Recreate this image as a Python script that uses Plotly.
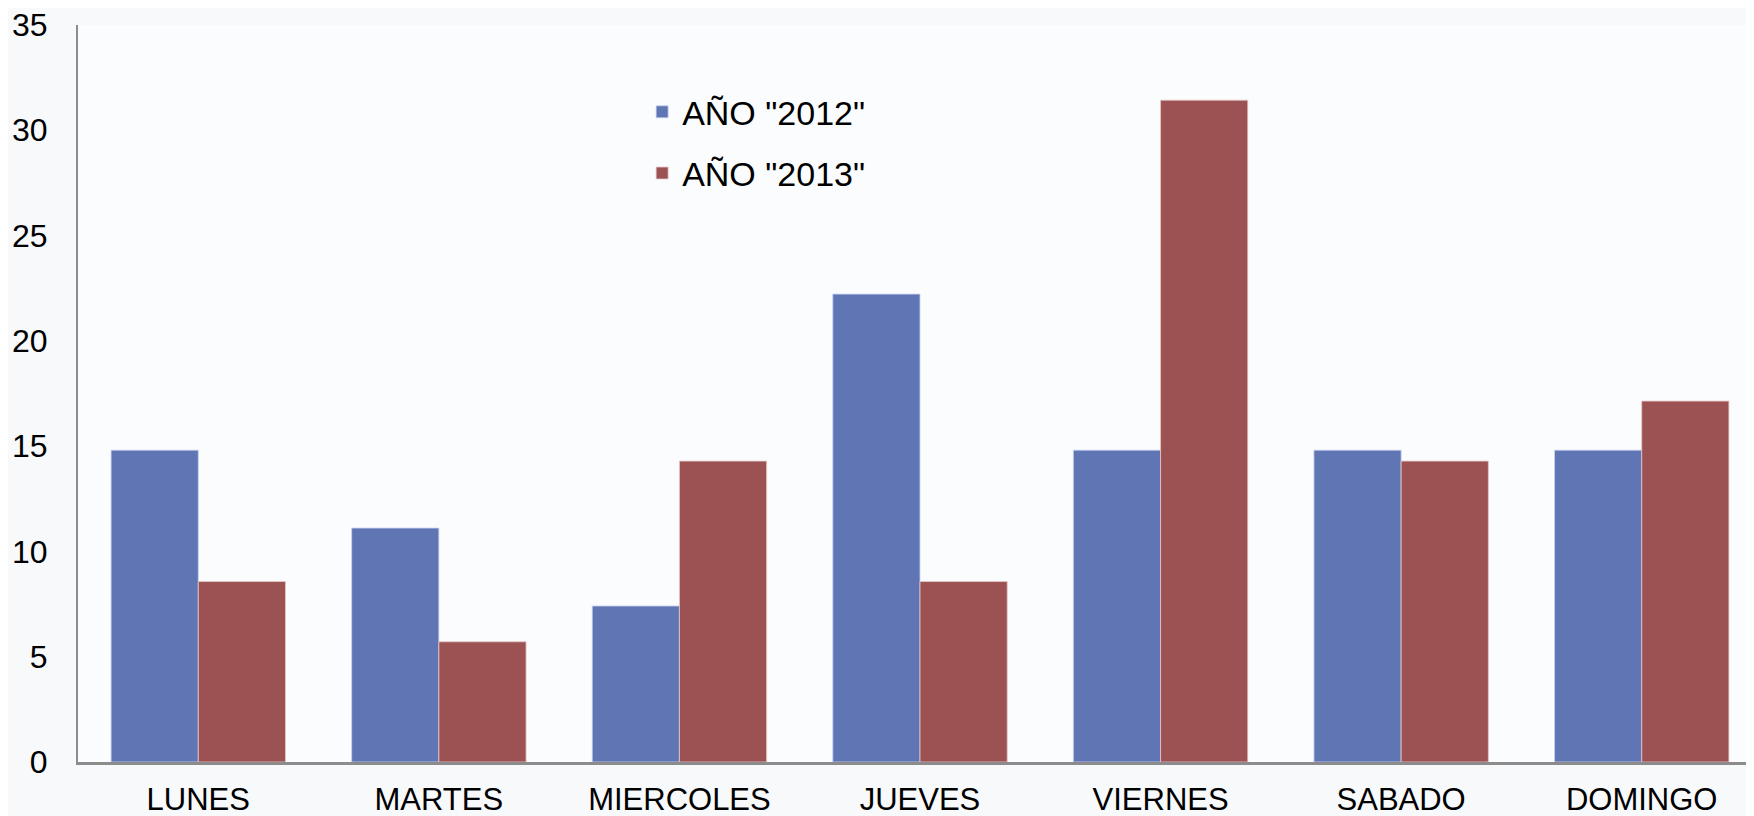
import plotly.graph_objects as go

dias = ["LUNES", "MARTES", "MIERCOLES", "JUEVES", "VIERNES", "SABADO", "DOMINGO"]
anio_2012 = [14.81, 11.11, 7.41, 22.22, 14.81, 14.81, 14.81]
anio_2013 = [8.57, 5.71, 14.29, 8.57, 31.43, 14.29, 17.14]
y_ticks = [0, 5, 10, 15, 20, 25, 30, 35]

fig = go.Figure()
fig.add_trace(go.Bar(x=dias, y=anio_2012, name='AÑO "2012"', legendgroup="a",
                     marker=dict(color="#6076B4", line=dict(color="rgba(200,210,240,0.8)", width=1))))
fig.add_trace(go.Bar(x=dias, y=anio_2013, name='AÑO "2013"', legendgroup="b",
                     marker=dict(color="#9C5253", line=dict(color="rgba(230,200,200,0.8)", width=1))))

fig.update_layout(
    width=1754, height=808,
    margin=dict(l=70, r=0, t=17, b=54, autoexpand=False),
    paper_bgcolor="#f8f9fb",
    plot_bgcolor="#fbfcfd",
    barmode="group",
    bargap=0.275,
    bargroupgap=0,
    font=dict(family="Liberation Sans, Arial, sans-serif", color="#000000", size=30),
    legend=dict(x=0.335, xanchor="left", y=0.921, yanchor="top",
                bgcolor="rgba(0,0,0,0)", font=dict(size=34), tracegroupgap=14),
    xaxis=dict(showline=True, linecolor="#8c8c8c", linewidth=3, showgrid=False,
               ticks="", tickfont=dict(size=31), ticklabelstandoff=8,
               automargin=False, ticklabeloverflow="allow"),
    yaxis=dict(range=[0, 35], tickvals=y_ticks, showline=True, linecolor="#8c8c8c",
               linewidth=2, showgrid=False, zeroline=False, ticks="",
               tickfont=dict(size=32), ticklabelstandoff=22,
               automargin=False, ticklabeloverflow="allow"),
)

fig.write_html("out.html")
